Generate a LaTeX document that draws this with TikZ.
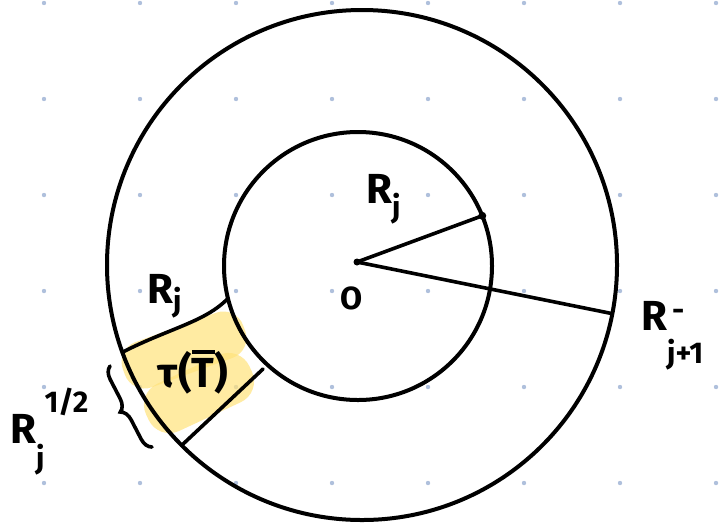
\documentclass[tikz,border=0pt]{standalone}
\usepackage{fontspec}
\setmainfont{Fira Sans}
\usetikzlibrary{decorations.pathreplacing}
\definecolor{griddot}{HTML}{AFC0DC}
\definecolor{hl}{HTML}{FFE27A}
\newcommand{\lbsub}[2]{\raisebox{-#1}{\fontsize{30}{32}\selectfont #2}}
\tikzset{
  ring/.style={circle, draw=black, line width=4pt, inner sep=0pt, outer sep=0pt},
  stroke/.style={line width=3.6pt, line cap=round, draw=black},
  lab/.style={font=\fontsize{42}{50}\selectfont\bfseries, inner sep=0pt},
  blob/.style={fill=hl, fill opacity=0.7, draw=none, inner sep=0pt},
  dotnode/.style={circle, fill=black, inner sep=0pt, minimum size=8pt}
}
\begin{document}
\begin{tikzpicture}[x=1pt,y=-1pt]
\useasboundingbox (0,0) rectangle (719,523);
% dot grid
\foreach \i in {0,...,7} \foreach \j in {0,...,5} \fill[griddot] (44+96*\i, 3+96*\j) circle (2.2pt);
% highlight
\node[blob, rounded corners=21pt, minimum width=128pt, minimum height=48pt, rotate=20] (blobA) at (184,350) {};
\node[blob, rounded corners=23pt, minimum width=114pt, minimum height=52pt, rotate=25] (blobB) at (199,393) {};
% circles
\node[ring, minimum size=268pt] (inner) at (358,266) {};
\node[ring, minimum size=510pt] (outer) at (362,265) {};
% centre
\node[dotnode, minimum size=7pt] (ctr) at (357,262) {};
\node[dotnode, minimum size=8pt] (rend) at (inner.22) {};
\draw[stroke] (ctr.center) -- (rend.center);
\draw[stroke] (ctr.center) -- (outer.-11);
% region boundaries
\coordinate (bend) at (263,369);
\draw[stroke] (outer.200) .. controls (170,328) and (205,322) .. (inner.194);
\draw[stroke] (outer.225) -- (bend);
% brace
\coordinate (brT) at (110,366);
\coordinate (brB) at (152,447);
\draw[stroke, decorate, decoration={brace, amplitude=12pt}] (brB) -- (brT);
% labels
\node[lab, anchor=base west] (rjtop) at (366,203) {R\lbsub{0.35em}{j}};
\node[lab, anchor=base west] (rjmid) at (147,303) {R\lbsub{0.2em}{j}};
\node[lab, font=\fontsize{32}{38}\selectfont\bfseries] (olab) at (352,298) {O};
\node[lab, anchor=base west] (rjp) at (641,330) {R\rlap{\raisebox{0.22em}{\fontsize{30}{32}\selectfont\,-}}\lbsub{0.8em}{j+1}};
\node[lab, anchor=base west] (rjh) at (10,443) {R\lbsub{0.6em}{j}\raisebox{0.72em}{\fontsize{30}{32}\selectfont 1/2}};
\node[lab] (tau) at (193,372) {τ(\rlap{\raisebox{0.78em}{\rule{0.55em}{0.1em}}}T)};
\end{tikzpicture}
\end{document}
